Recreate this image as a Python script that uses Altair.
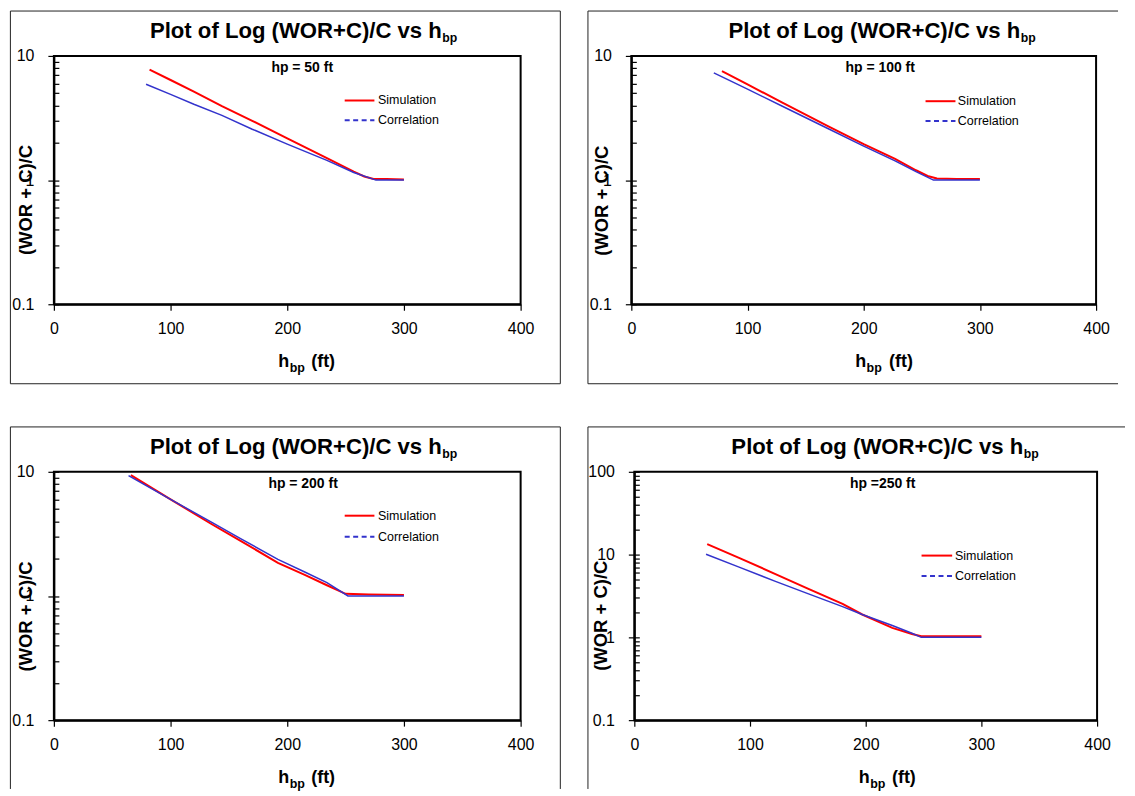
import altair as alt
import pandas as pd

FONT = "Liberation Sans"
SERIES = ["Simulation", "Correlation"]
SERIES_COLORS = ["#FF0000", "#3333CC"]
X_TICKS = [0, 100, 200, 300, 400]
TITLE_MAIN = "Plot of Log (WOR+C)/C vs h"
TITLE_SUB = "bp"
Y_TITLE = "(WOR + C)/C"
X_TITLE_MAIN = "h"
X_TITLE_SUB = "bp"
X_TITLE_UNIT = "(ft)"
HP_LABELS = ["hp = 50 ft", "hp = 100 ft", "hp = 200 ft", "hp =250 ft"]
Y_MAX = [10, 10, 10, 100]

# Panel 1: hp = 50 ft
P1_SIM_H = [82, 100, 120, 144, 170, 200, 234, 257, 266, 274, 285, 300]
P1_SIM_R = [7.76, 6.4, 5.15, 3.94, 3.0, 2.17, 1.5, 1.17, 1.07, 1.02, 1.02, 1.01]
P1_COR_H = [79, 100, 120, 144, 170, 200, 234, 257, 276, 288, 300]
P1_COR_R = [5.92, 4.9, 4.08, 3.32, 2.57, 1.95, 1.44, 1.15, 1.0, 1.0, 1.0]

# Panel 2: hp = 100 ft
P2_SIM_H = [78, 100, 130, 170, 200, 227, 245, 255, 263, 280, 300]
P2_SIM_R = [7.53, 5.9, 4.2, 2.7, 1.95, 1.48, 1.2, 1.08, 1.03, 1.02, 1.02]
P2_COR_H = [71, 100, 130, 170, 200, 227, 245, 260, 280, 300]
P2_COR_R = [7.31, 5.4, 3.93, 2.58, 1.88, 1.43, 1.17, 1.0, 1.0, 1.0]

# Panel 3: hp = 200 ft
P3_SIM_H = [66, 100, 135, 160, 192, 215, 234, 250, 270, 300]
P3_SIM_R = [9.4, 6.0, 3.8, 2.78, 1.85, 1.48, 1.22, 1.04, 1.03, 1.02]
P3_COR_H = [64, 100, 135, 160, 192, 215, 234, 252, 275, 300]
P3_COR_R = [9.3, 6.0, 3.93, 2.9, 1.97, 1.56, 1.28, 1.0, 1.0, 1.0]

# Panel 4: hp = 250 ft
P4_SIM_H = [63, 90, 122, 150, 180, 197, 223, 240, 248, 270, 300]
P4_SIM_R = [13.4, 9.2, 5.82, 3.88, 2.54, 1.89, 1.3, 1.1, 1.03, 1.03, 1.03]
P4_COR_H = [62, 90, 122, 150, 180, 197, 223, 240, 248, 270, 300]
P4_COR_R = [10.1, 7.1, 4.74, 3.38, 2.35, 1.89, 1.39, 1.12, 1.0, 1.0, 1.0]

PANEL_DATA = [
    (P1_SIM_H, P1_SIM_R, P1_COR_H, P1_COR_R),
    (P2_SIM_H, P2_SIM_R, P2_COR_H, P2_COR_R),
    (P3_SIM_H, P3_SIM_R, P3_COR_H, P3_COR_R),
    (P4_SIM_H, P4_SIM_R, P4_COR_H, P4_COR_R),
]

# layout (pixels relative to each plot area's top-left corner)
LAYOUT = [
    dict(w=468, h=249, title_x=389, title_y=-17.6, ann_x=249, ann_y=16.6,
         leg_x0=291.6, leg_x1=321.4, leg_tx=325, leg_y0=44.7, leg_y1=64.5,
         yt_x=-28.5, yt_y=144, xt_h=236, xt_u=258, xt_y=63.2,
         box_l=-43.6, box_t=-45, box_r=507.8, box_b=328.7, right=True, bottom=True),
    dict(w=466, h=249, title_x=390, title_y=-17.6, ann_x=249.5, ann_y=16.6,
         leg_x0=295, leg_x1=325, leg_tx=327.4, leg_y0=45.4, leg_y1=65.2,
         yt_x=-29.5, yt_y=144.7, xt_h=235.4, xt_u=258.4, xt_y=63.2,
         box_l=-43.5, box_t=-45, box_r=488, box_b=328.7, right=False, bottom=True),
    dict(w=468, h=249, title_x=389, title_y=-17.7, ann_x=249.9, ann_y=16.5,
         leg_x0=291.6, leg_x1=321.4, leg_tx=325, leg_y0=44.0, leg_y1=65.1,
         yt_x=-28.5, yt_y=144.6, xt_h=236, xt_u=258, xt_y=63.3,
         box_l=-43.6, box_t=-45, box_r=507.8, box_b=318, right=True, bottom=False),
    dict(w=464, h=249, title_x=390, title_y=-17.7, ann_x=249, ann_y=16.5,
         leg_x0=288, leg_x1=318.7, leg_tx=321.5, leg_y0=84.0, leg_y1=104.5,
         yt_x=-33.5, yt_y=143.8, xt_h=236, xt_u=258.3, xt_y=63.3,
         box_l=-46.5, box_t=-45, box_r=492, box_b=318, right=False, bottom=False),
]

ONE = pd.DataFrame({"k": [0]})


def txt(text, x, y, size, weight="normal", align="left", baseline="alphabetic"):
    return alt.Chart(ONE).mark_text(
        text=text, font=FONT, fontSize=size, fontWeight=weight,
        align=align, baseline=baseline, color="black"
    ).encode(x=alt.value(x), y=alt.value(y))


def rule(x1, y1, x2, y2, color, width, dash=None):
    kw = dict(color=color, strokeWidth=width)
    if dash:
        kw["strokeDash"] = dash
    return alt.Chart(ONE).mark_rule(**kw).encode(
        x=alt.value(x1), x2=alt.value(x2), y=alt.value(y1), y2=alt.value(y2))


def make_panel(i):
    L = LAYOUT[i]
    sim_h, sim_r, cor_h, cor_r = PANEL_DATA[i]
    df = pd.DataFrame({
        "h": sim_h + cor_h,
        "r": sim_r + cor_r,
        "series": ["Simulation"] * len(sim_h) + ["Correlation"] * len(cor_h),
    })
    ymax = Y_MAX[i]
    majors = [v for v in [0.1, 1, 10, 100] if v <= ymax]
    minors = []
    for d in majors[:-1]:
        for m in range(1, 10):
            minors.append(round(m * d, 6))
    minors.append(ymax)

    x_enc = alt.X("h:Q", scale=alt.Scale(domain=[0, 400], nice=False),
                  axis=alt.Axis(values=X_TICKS, format="d", title=None, labelFlush=False,
                                tickSize=6, labelPadding=10.5, grid=False))
    yscale = alt.Scale(type="log", domain=[0.1, ymax], nice=False)
    color = alt.Color("series:N", scale=alt.Scale(domain=SERIES, range=SERIES_COLORS), legend=None)

    y_main = alt.Y("r:Q", scale=yscale, axis=alt.Axis(
        values=majors, format="~g", tickSize=6, labelPadding=14, grid=False,
        labelOverlap=False, title=Y_TITLE, titleX=L["yt_x"], titleY=L["yt_y"],
        titleAngle=270, titleAlign="center", titleBaseline="middle"))

    sim = alt.Chart(df).transform_filter(alt.datum.series == "Simulation").mark_line(
        strokeWidth=2).encode(x=x_enc, y=y_main, color=color)
    cor = alt.Chart(df).transform_filter(alt.datum.series == "Correlation").mark_line(
        strokeWidth=1.5).encode(x=x_enc, y=alt.Y("r:Q", scale=yscale, axis=None), color=color)
    minor = alt.Chart(df).mark_line(opacity=0).encode(
        x=x_enc,
        y=alt.Y("r:Q", scale=yscale, axis=alt.Axis(
            orient="right", offset=-L["w"], values=minors, labels=False, domain=False,
            tickSize=5, tickWidth=1.2, grid=False, title=None)),
        detail="series:N")

    deco = [
        txt(TITLE_MAIN, L["title_x"], L["title_y"], 22.2, "bold", "right"),
        txt(TITLE_SUB, L["title_x"] + 0.5, L["title_y"] + 3.7, 12.3, "bold", "left"),
        txt(HP_LABELS[i], L["ann_x"], L["ann_y"], 14, "bold", "center"),
        rule(L["leg_x0"], L["leg_y0"], L["leg_x1"], L["leg_y0"], SERIES_COLORS[0], 2),
        rule(L["leg_x0"], L["leg_y1"], L["leg_x1"], L["leg_y1"], SERIES_COLORS[1], 2, [5, 3.5]),
        txt(SERIES[0], L["leg_tx"], L["leg_y0"], 12.5, "normal", "left", "middle"),
        txt(SERIES[1], L["leg_tx"], L["leg_y1"], 12.5, "normal", "left", "middle"),
        txt(X_TITLE_MAIN, L["xt_h"], L["h"] + L["xt_y"], 18, "bold", "right"),
        txt(X_TITLE_SUB, L["xt_h"] + 0.5, L["h"] + L["xt_y"] + 4.4, 12.5, "bold", "left"),
        txt(X_TITLE_UNIT, L["xt_u"], L["h"] + L["xt_y"], 18, "bold", "left"),
        rule(L["box_l"], L["box_t"], L["box_r"], L["box_t"], "#222222", 1),
        rule(L["box_l"], L["box_t"], L["box_l"], L["box_b"], "#222222", 1),
    ]
    if L["right"]:
        deco.append(rule(L["box_r"], L["box_t"], L["box_r"], L["box_b"], "#222222", 1))
    if L["bottom"]:
        deco.append(rule(L["box_l"], L["box_b"], L["box_r"], L["box_b"], "#222222", 1))

    return alt.layer(sim, cor, minor, *deco).resolve_axis(y="independent").properties(
        width=L["w"], height=L["h"])


row1 = alt.hconcat(make_panel(0), make_panel(1), spacing=24)
row2 = alt.hconcat(make_panel(2), make_panel(3), spacing=24)

chart = alt.vconcat(row1, row2, spacing=39).properties(padding=0).configure_view(
    stroke="black", strokeWidth=2
).configure_axis(
    domainColor="black", domainWidth=2, tickColor="black", tickWidth=1.2,
    labelFont=FONT, labelFontSize=16, labelColor="black",
    titleFont=FONT, titleFontSize=18.5, titleFontWeight="bold", titleColor="black",
)

chart.save("out.html", embed_options={"renderer": "svg", "actions": False})
